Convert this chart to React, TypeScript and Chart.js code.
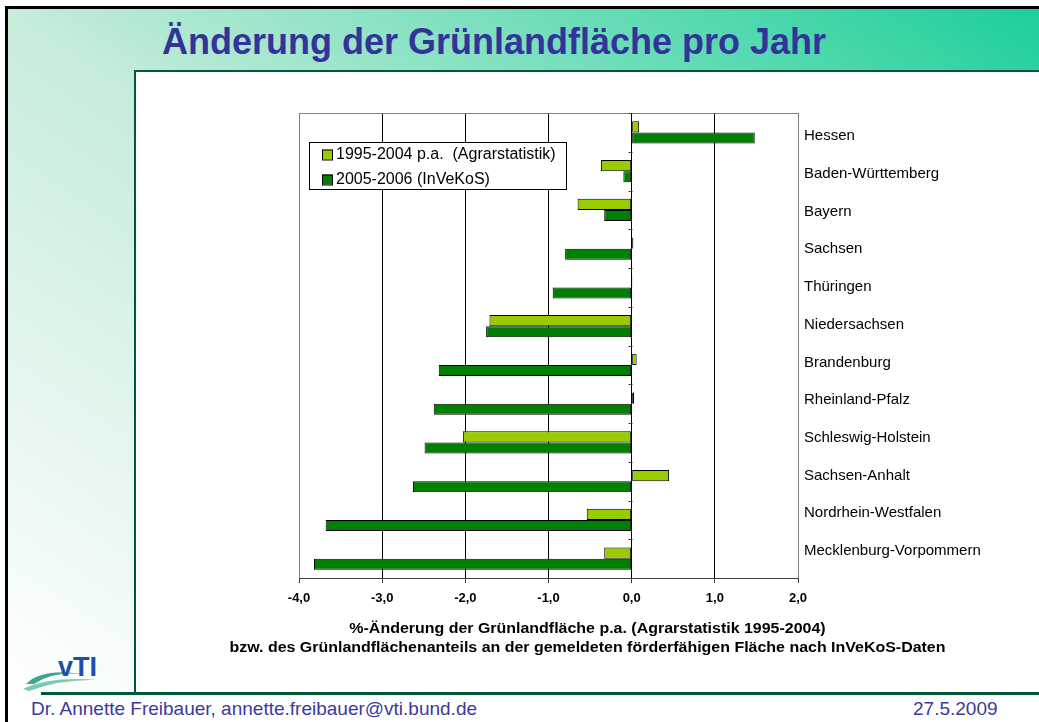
import React, { useEffect, useRef } from "react";
import { Chart, registerables } from "chart.js";

Chart.register(...registerables);

const categories = [
  "Hessen",
  "Baden-Württemberg",
  "Bayern",
  "Sachsen",
  "Thüringen",
  "Niedersachsen",
  "Brandenburg",
  "Rheinland-Pfalz",
  "Schleswig-Holstein",
  "Sachsen-Anhalt",
  "Nordrhein-Westfalen",
  "Mecklenburg-Vorpommern",
];
const agrarstatistik = [0.09, -0.37, -0.65, 0.02, 0.01, -1.71, 0.06, 0.03, -2.03, 0.45, -0.54, -0.33];
const invekos = [1.48, -0.1, -0.33, -0.8, -0.95, -1.75, -2.32, -2.38, -2.49, -2.63, -3.68, -3.82];
const seriesLabels = ["1995-2004 p.a.  (Agrarstatistik)", "2005-2006 (InVeKoS)"];
const seriesColors = ["#99cc00", "#008000"];
const xTicks = [-4, -3, -2, -1, 0, 1, 2];
const axisTitle = [
  "%-Änderung der Grünlandfläche p.a. (Agrarstatistik 1995-2004)",
  "bzw. des Grünlandflächenanteils an der gemeldeten förderfähigen Fläche nach InVeKoS-Daten",
];
const slideTitle = "Änderung der Grünlandfläche pro Jahr";
const footerLeft = "Dr. Annette Freibauer, annette.freibauer@vti.bund.de";
const footerRight = "27.5.2009";

const FONT = "Arial, 'Liberation Sans', Helvetica, sans-serif";

const decorPlugin = {
  id: "decor",
  beforeDatasetsDraw(chart: any) {
    const { ctx, chartArea } = chart;
    const xs = chart.scales.x;
    const ys = chart.scales.y;
    ctx.save();
    ctx.strokeStyle = "#808080";
    ctx.lineWidth = 1;
    ctx.beginPath();
    ctx.moveTo(chartArea.left, chartArea.top + 0.5);
    ctx.lineTo(chartArea.right, chartArea.top + 0.5);
    ctx.stroke();
    const x0 = Math.round(xs.getPixelForValue(0)) + 0.5;
    ctx.strokeStyle = "#404040";
    ctx.beginPath();
    for (let i = 0; i <= categories.length; i++) {
      const y = Math.round(ys.getPixelForValue(i - 0.5)) + 0.5;
      ctx.moveTo(x0 - 4, y);
      ctx.lineTo(x0, y);
    }
    ctx.stroke();
    ctx.restore();
  },
  afterDatasetsDraw(chart: any) {
    const { ctx, chartArea, width } = chart;
    ctx.save();
    ctx.fillStyle = "#000";
    ctx.font = `15px ${FONT}`;
    ctx.textAlign = "left";
    ctx.textBaseline = "middle";
    const labelTop = chartArea.top + 23;
    const step = (chartArea.bottom - chartArea.top - 50) / (categories.length - 1);
    categories.forEach((c, i) => {
      ctx.fillText(c, chartArea.right + 6, labelTop + i * step);
    });

    const lx = chartArea.left + 10;
    const ly = chartArea.top + 29;
    const lw = 257;
    const lh = 47;
    ctx.fillStyle = "#fff";
    ctx.fillRect(lx, ly, lw, lh);
    ctx.strokeStyle = "#000";
    ctx.lineWidth = 1;
    ctx.strokeRect(lx + 0.5, ly + 0.5, lw, lh);
    ctx.font = `16px ${FONT}`;
    chart.data.datasets.forEach((ds: any, i: number) => {
      const cy = ly + 12.5 + i * 25;
      ctx.fillStyle = ds.backgroundColor;
      ctx.fillRect(lx + 13, cy - 5, 10, 10);
      ctx.strokeStyle = "#000";
      ctx.strokeRect(lx + 13.5, cy - 4.5, 10, 10);
      ctx.fillStyle = "#000";
      ctx.textAlign = "left";
      ctx.textBaseline = "middle";
      ctx.fillText(ds.label, lx + 27, cy + 0.5);
    });

    // axis title (slightly widened, as in the original)
    ctx.fillStyle = "#000";
    ctx.font = `bold 14px ${FONT}`;
    ctx.textAlign = "center";
    ctx.textBaseline = "middle";
    const sx = 1.14;
    axisTitle.forEach((t, i) => {
      ctx.save();
      ctx.translate(width / 2, chartArea.bottom + 51 + i * 19);
      ctx.scale(sx, 1);
      ctx.fillText(t, 0, 0);
      ctx.restore();
    });
    ctx.restore();
  },
};

function BarChart() {
  const ref = useRef<HTMLCanvasElement | null>(null);
  useEffect(() => {
    if (!ref.current) return;
    const chart = new Chart(ref.current, {
      type: "bar",
      data: {
        labels: categories,
        datasets: [
          {
            label: seriesLabels[0],
            data: agrarstatistik,
            backgroundColor: seriesColors[0],
            borderColor: "#000",
            borderWidth: 1,
            borderSkipped: false,
            categoryPercentage: 0.57,
            barPercentage: 1,
          },
          {
            label: seriesLabels[1],
            data: invekos,
            backgroundColor: seriesColors[1],
            borderColor: "#000",
            borderWidth: 1,
            borderSkipped: false,
            categoryPercentage: 0.57,
            barPercentage: 1,
          },
        ],
      },
      options: {
        indexAxis: "y",
        animation: false,
        responsive: false,
        devicePixelRatio: 1,
        layout: { padding: { left: 163, right: 241, top: 41, bottom: 83 } },
        scales: {
          x: {
            type: "linear",
            min: -4,
            max: 2,
            afterBuildTicks: (s: any) => {
              s.ticks = xTicks.map((v) => ({ value: v }));
            },
            afterFit: (s: any) => {
              s.height = 30;
            },
            ticks: {
              color: "#000",
              padding: 8,
              font: { family: FONT, size: 13, weight: "bold" },
              callback: (v: any) => Number(v).toFixed(1).replace(".", ","),
            },
            grid: {
              color: (c: any) =>
                c.tick && (c.tick.value === -4 || c.tick.value === 2) ? "#808080" : "#000",
              tickColor: "#404040",
              tickLength: 5,
              lineWidth: 1,
            },
            border: { color: "#404040", width: 1 },
          },
          y: {
            type: "category",
            display: false,
          },
        },
        plugins: {
          legend: { display: false },
          tooltip: { enabled: false },
          title: { display: false },
        },
      },
      plugins: [decorPlugin],
    } as any);
    return () => chart.destroy();
  }, []);
  return (
    <canvas
      ref={ref}
      width={903}
      height={619}
      style={{ position: "absolute", left: 136, top: 72, width: 903, height: 619 }}
    />
  );
}

export default function App() {
  return (
    <div
      style={{
        position: "fixed",
        left: 0,
        top: 0,
        width: 1039,
        height: 722,
        background: "#fff",
        overflow: "hidden",
        fontFamily: FONT,
      }}
    >
      <div
        style={{
          position: "absolute",
          left: 5,
          top: 6,
          width: 1040,
          height: 720,
          borderTop: "3px solid #000",
          borderLeft: "3px solid #000",
        }}
      />
      <div
        style={{
          position: "absolute",
          left: 8,
          top: 9,
          width: 1031,
          height: 684,
          background: "linear-gradient(to top right, #ffffff 0%, #c6ecda 50%, #1ccf9b 100%)",
        }}
      />
      <div
        style={{
          position: "absolute",
          left: 134,
          top: 70,
          width: 905,
          height: 623,
          background: "#fff",
          borderLeft: "2px solid #00583a",
          borderTop: "2px solid #00583a",
          boxSizing: "border-box",
        }}
      />
      <div
        style={{
          position: "absolute",
          left: 8,
          top: 693,
          width: 1031,
          height: 29,
          background: "#fff",
        }}
      />
      <div
        style={{
          position: "absolute",
          left: 41,
          top: 692,
          width: 998,
          height: 3,
          background: "#00583a",
        }}
      />
      <div
        style={{
          position: "absolute",
          left: 31,
          top: 698,
          fontSize: 19,
          lineHeight: "22px",
          color: "#3a3a9c",
          whiteSpace: "nowrap",
        }}
      >
        {footerLeft}
      </div>
      <div
        style={{
          position: "absolute",
          left: 913,
          top: 698,
          fontSize: 19,
          lineHeight: "22px",
          color: "#3a3a9c",
          whiteSpace: "nowrap",
        }}
      >
        {footerRight}
      </div>
      <div
        style={{
          position: "absolute",
          left: 162,
          top: 21,
          fontSize: 36,
          fontWeight: "bold",
          lineHeight: "42px",
          color: "#333399",
          whiteSpace: "nowrap",
        }}
      >
        {slideTitle}
      </div>
      <svg
        style={{ position: "absolute", left: 20, top: 646 }}
        width={90}
        height={46}
        viewBox="0 0 90 46"
      >
        <path d="M6 38 Q 22 22 62 28 Q 32 25 14 38 Z" fill="#3aa88a" />
        <path d="M3 43 Q 30 30 78 34 Q 40 33 9 45 Z" fill="#7cc8b0" />
        <text x={38} y={30} fontFamily={FONT} fontWeight="bold" fontSize={27} fill="#1f4ea8">
          vTI
        </text>
      </svg>
      <BarChart />
    </div>
  );
}
